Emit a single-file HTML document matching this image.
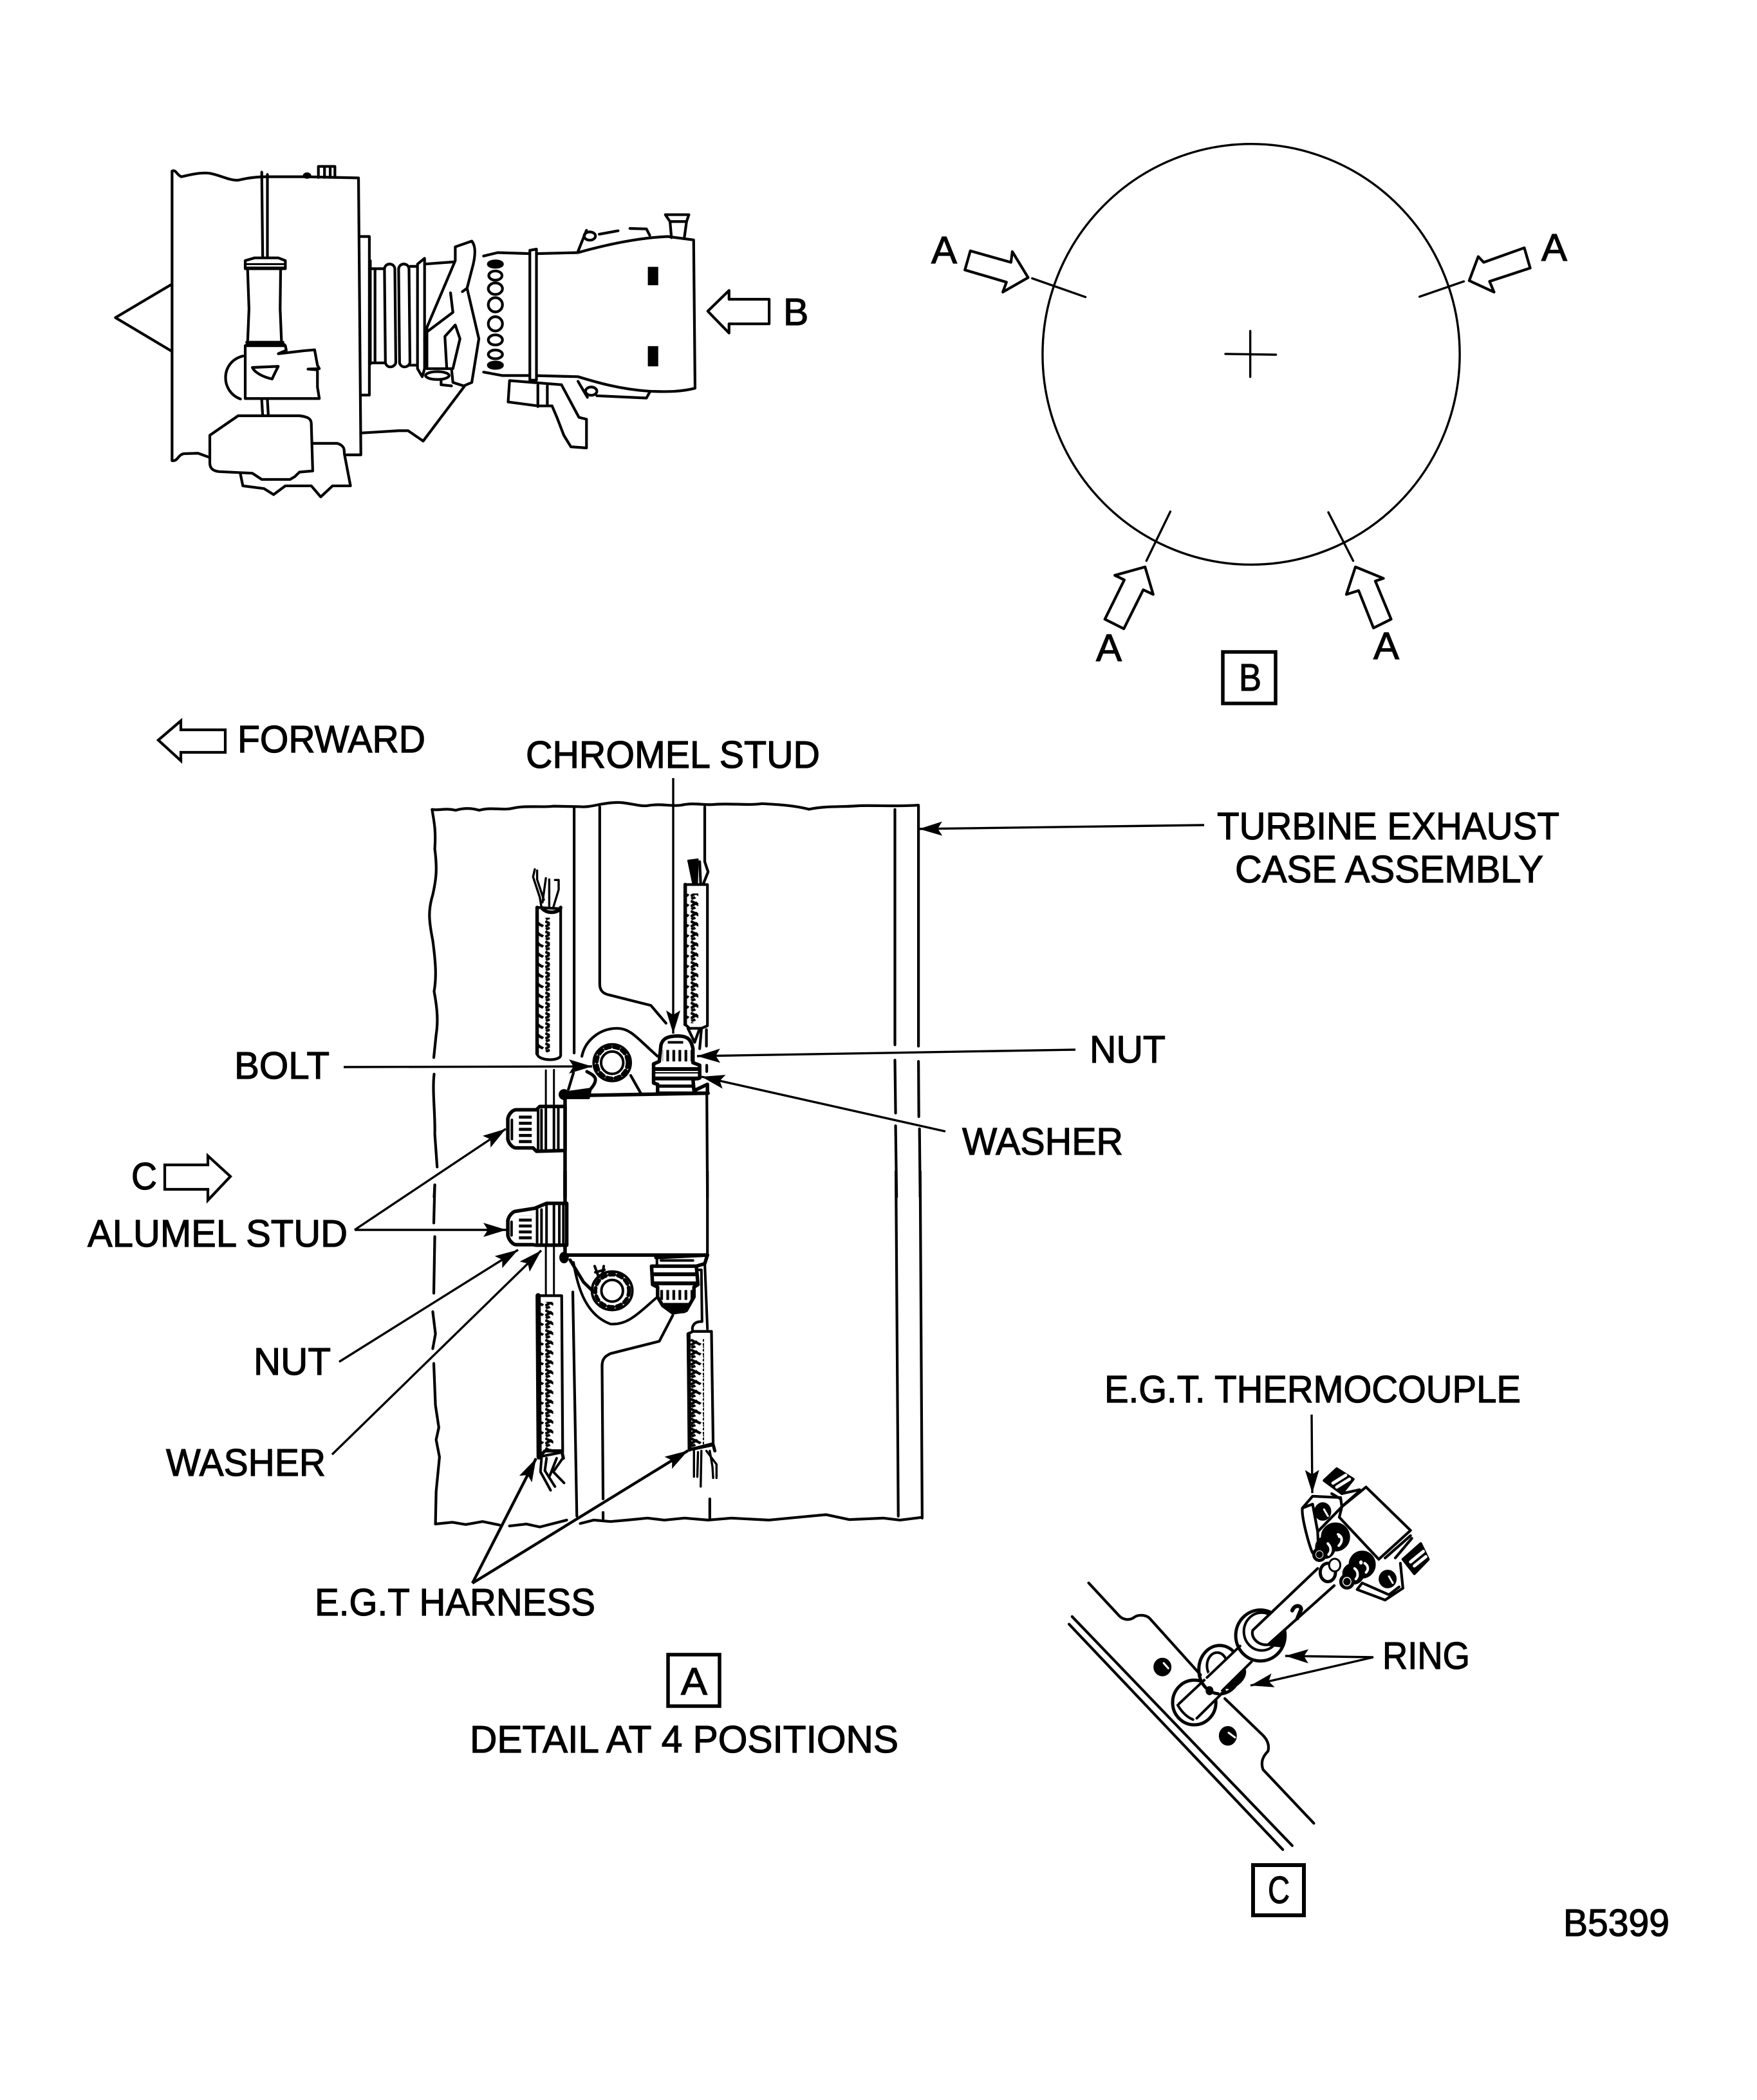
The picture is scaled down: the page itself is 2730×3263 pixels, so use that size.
<!DOCTYPE html>
<html><head><meta charset="utf-8"><style>
html,body{margin:0;padding:0;background:#fff}
svg{display:block}
text{font-family:"Liberation Sans",sans-serif;font-size:59px;fill:#000;stroke:#000;stroke-width:1.2px}
.s *{vector-effect:non-scaling-stroke}
.s{fill:none;stroke:#000;stroke-width:4.2px;stroke-linecap:round;stroke-linejoin:round}
.w{fill:#fff}.k{fill:#000}
.l{fill:none;stroke:#000;stroke-width:3.4px;stroke-linecap:butt}
</style></head><body>
<svg xmlns="http://www.w3.org/2000/svg" width="2730" height="3263" viewBox="0 0 2730 3263">
<defs>
<marker id="a" markerUnits="userSpaceOnUse" markerWidth="40" markerHeight="30" refX="36" refY="13" orient="auto">
<path d="M0,2 L36,13 L0,24 L7,13 Z" fill="#000"/></marker>
<pattern id="h" patternUnits="userSpaceOnUse" width="36" height="40">
<path d="M0,4 L30,24 M0,26 L20,10 M2,36 L14,30" stroke="#000" stroke-width="10" fill="none"/></pattern>
<pattern id="r" patternUnits="userSpaceOnUse" width="18" height="40">
<rect x="0" y="0" width="8" height="40" fill="#000"/></pattern>
<pattern id="q" patternUnits="userSpaceOnUse" width="40" height="24">
<rect x="0" y="0" width="40" height="12" fill="#000"/></pattern>
</defs>

<!-- ENGINE -->
<g class="s" transform="translate(150,230) scale(.7334,.3571)">
<path d="M160,1360 L160,100 C168,92 170,118 180,125 C200,115 222,105 240,110 C262,118 282,142 300,140 C320,130 340,125 360,125 L440,125 L555,130 L560,1335 L530,1335"/>
<path d="M160,1360 C172,1365 172,1335 185,1330 L215,1328 L238,1345"/>
<path d="M160,592 L40,738 L160,885"/>
<path d="M350,105 L352,475 M362,115 L362,475"/>
<path d="M470,128 L470,80 L505,80 L505,128 M483,80 L483,128 M495,80 L495,128"/>
<ellipse class="k" cx="446" cy="120" rx="6" ry="8"/>
<path d="M560,385 L578,385 L578,1075 L560,1075"/>
<path class="w" d="M315,525 L315,490 L335,478 L385,478 L400,490 L400,525 Z"/>
<path d="M315,505 L400,505 M315,520 L400,520" stroke-width="3"/>
<path d="M320,525 L323,700 L320,850 M390,525 L389,700 L392,850"/>
<path d="M318,845 L395,845 M318,855 L398,855"/>
<path class="w" d="M315,860 L400,860 L402,880 L385,895 L440,882 L462,878 L468,945 L472,960 L448,962 L468,965 L468,1040 L472,1090 L315,1090 Z"/>
<path d="M310,905 C262,930 262,1060 305,1092"/>
<path d="M330,955 L385,950 C380,970 375,990 372,1005 C350,995 335,975 330,955 Z"/>
<path d="M350,1095 L352,1165 M362,1095 L364,1165"/>
<path d="M458,1285 L510,1285 C525,1295 525,1310 525,1330 L538,1470 L500,1470 L475,1518 L455,1470 L400,1470 L375,1508 L355,1482 L310,1470 L305,1420"/>
<path class="w" d="M300,1165 L360,1165 L430,1165 C450,1170 455,1180 455,1200 L458,1405 L430,1410 L420,1430 L410,1442 L350,1442 L330,1415 L260,1408 C245,1405 240,1390 240,1370 L240,1250 Z"/>
<path d="M560,1240 L640,1230 L660,1230 L692,1275 L780,1035"/>
<path d="M580,490 L580,940 M578,525 L610,525 M578,935 L610,935 M590,530 L590,935"/>
<path d="M610,525 C612,498 630,498 632,525 L634,935 C630,958 615,958 612,935 Z"/>
<path d="M640,525 C642,498 660,498 662,525 L664,935 C660,958 645,958 642,935 Z"/>
<path d="M680,505 L695,480 L695,960 L690,995 L680,960 Z M664,515 L680,515 M664,945 L680,945"/>
<path d="M695,505 L760,495 M695,830 L700,960"/>
<ellipse class="w" cx="722" cy="990" rx="25" ry="17"/>
<path d="M730,1012 L730,1030 L752,1035"/>
<path class="w" d="M760,430 L795,405 C805,430 802,480 795,530 L785,610 L810,830 L795,1020 L778,1035 L755,1020 L752,960 L700,960 L700,780 L760,490 Z"/>
<path d="M750,630 L755,715 L700,800 M775,625 L785,610 M760,770 L738,820 L742,960 M760,770 L770,830 L755,960"/>
<path d="M820,470 L850,455 L925,460 L1020,455 C1080,420 1150,390 1210,385 L1265,400 L1268,1045 C1240,1060 1210,1062 1170,1058 C1110,1050 1060,1020 1020,995 L925,990 L860,990 L820,975"/>
<path d="M918,445 L918,1010 L932,1010 L932,440 Z" class="w"/>
<ellipse class="k" cx="845" cy="505" rx="15" ry="14"/>
<ellipse cx="845" cy="555" rx="14" ry="20"/><ellipse cx="845" cy="612" rx="15" ry="25"/>
<ellipse cx="845" cy="682" rx="15" ry="31"/><ellipse cx="845" cy="765" rx="15" ry="31"/>
<ellipse cx="845" cy="835" rx="15" ry="22"/><ellipse cx="845" cy="898" rx="15" ry="19"/>
<ellipse class="k" cx="845" cy="945" rx="15" ry="14"/>
<rect class="k" x="1168" y="517" width="22" height="80" stroke="none"/>
<rect class="k" x="1168" y="862" width="22" height="88" stroke="none"/>
<path d="M1295,710 L1340,620 L1340,658 L1425,658 L1425,765 L1340,765 L1340,805 Z"/>
<path d="M1205,290 L1255,290 L1250,320 L1245,395 M1205,290 L1215,320 L1218,390 M1215,320 L1248,320"/>
<ellipse cx="1045" cy="383" rx="12" ry="18"/>
<path d="M1020,450 L1038,358 M1065,375 L1105,360 M1130,350 L1165,352 L1172,380"/>
<path d="M1020,1015 L1040,1085"/>
<ellipse cx="1048" cy="1058" rx="12" ry="18"/>
<path d="M1060,1078 L1165,1088 L1172,1062"/>
<path d="M875,1012 L985,1030 M875,1012 L872,1105 L935,1122 L965,1122 M935,1032 L935,1125 M955,1035 L955,1122"/>
<path d="M985,1030 L1022,1172 L1038,1180 L1038,1305 L1005,1300 L990,1250 L975,1170 L965,1122"/>
</g>
<text x="1217" y="505">B</text>

<!-- CIRCLE -->
<g class="s" transform="translate(1420,200) scale(.7015,.5931)" style="stroke-width:3.4px">
<ellipse cx="747" cy="591" rx="462" ry="551"/>
<path d="M262,392 L380,441 M1218,400 L1120,440 M515,1132 L568,1003 M973,1132 L918,1005"/>
<path d="M745,530 L745,650 M690,590 L802,592"/>
<path stroke-width="4.2" d="M253,390 L218,322 L215,350 L125,320 L113,370 L205,402 L197,428 Z"/>
<path stroke-width="4.2" d="M1230,398 L1250,335 L1262,350 L1352,312 L1365,365 L1275,400 L1285,428 Z"/>
<path stroke-width="4.2" d="M512,1148 L445,1170 L466,1182 L423,1285 L465,1310 L508,1208 L530,1220 Z"/>
<path stroke-width="4.2" d="M978,1148 L1040,1178 L1022,1185 L1057,1285 L1018,1308 L985,1210 L958,1220 Z"/>
</g>
<text x="1447" y="409" textLength="40" lengthAdjust="spacingAndGlyphs">A</text>
<text x="2395" y="405" textLength="40" lengthAdjust="spacingAndGlyphs">A</text>
<text x="1703" y="1027" textLength="40" lengthAdjust="spacingAndGlyphs">A</text>
<text x="2134" y="1024" textLength="40" lengthAdjust="spacingAndGlyphs">A</text>
<rect x="1900" y="1013" width="82" height="80" fill="none" stroke="#000" stroke-width="5.5"/>
<text x="1925" y="1073" textLength="35" lengthAdjust="spacingAndGlyphs">B</text>

<!-- UPPER DETAIL A -->
<g class="s" transform="translate(640,1240) scale(.523,.3954)">
<path d="M60,45 C80,50 100,38 130,48 C160,36 185,42 200,48 C240,34 270,50 300,40 C340,28 380,38 420,32 L500,34 C530,38 560,20 600,18 C640,14 670,34 700,30 C740,20 770,34 800,28 C840,16 870,30 900,25 C950,20 1000,30 1040,22 C1090,26 1130,28 1180,44 C1230,30 1280,36 1330,30 C1380,28 1440,34 1505,28"/>
<path d="M60,45 C65,90 72,120 68,200 C76,280 72,320 62,380 C48,440 50,480 62,560 C70,640 74,700 66,760 C76,830 78,880 72,930 L65,1020 M66,1085 C60,1150 70,1250 68,1320 L75,1450 M68,1520 L66,1568"/>
<path d="M482,40 L482,1002 M558,35 L558,730 C558,760 570,770 590,775 L710,815 L755,885"/>
<path d="M870,35 L870,250"/>
<path d="M1435,45 L1435,970 M1435,1030 L1437,1238 M1437,1288 L1440,1568 M1505,30 L1505,975 M1505,1035 L1506,1252 M1508,1300 L1510,1568"/>
<path d="M876,1050 L876,1075 M876,1125 L878,1568 M455,1170 L455,1568" />
<path d="M455,1170 L880,1160" stroke-width="5.5"/>
<path d="M455,1180 L455,1568" stroke-width="5.5"/>
<path class="w" d="M372,430 L442,435 L442,1010 C442,1035 375,1035 372,1005 Z"/>
<rect x="376" y="470" width="34" height="530" fill="url(#h)" stroke="none"/>
<path d="M372,430 L372,1005" stroke-width="5.5"/>
<path d="M385,430 C400,460 440,450 442,430" stroke-width="5.5"/>
<path d="M365,280 L360,310 L380,390 L385,430 M372,285 L372,320 L392,400 M398,315 L388,410 M408,320 L408,425 M425,322 L436,322 L436,360 L420,430" stroke-width="3.4"/>
<path class="w" d="M812,340 L878,340 L878,895 L860,905 L825,905 L812,890 Z"/>
<rect x="815" y="375" width="36" height="510" fill="url(#h)" stroke="none"/>
<path d="M812,340 L812,890" stroke-width="5.5"/>
<path class="k" d="M820,245 L850,240 L848,340 L835,340 Z" stroke-width="2"/>
<path d="M870,250 L880,290 L865,340 M855,250 L858,340"/>
<path d="M820,905 L840,960 L855,905 M860,910 L855,985 M875,910 L875,975"/>
<!-- bolt & lug -->
<path class="w" d="M505,1020 C515,950 560,905 610,905 C650,905 670,945 730,1020 L730,1150 L480,1150 Z" stroke="none"/>
<path d="M505,1015 C515,950 560,905 610,905 C650,905 670,945 730,1015"/>
<path d="M650,1090 L680,1160 M480,1080 L465,1145"/>
<ellipse cx="595" cy="1040" rx="55" ry="72" stroke-width="4"/>
<ellipse cx="595" cy="1040" rx="46" ry="62" stroke-width="6"  stroke-dasharray="7,6"/>
<ellipse cx="595" cy="1040" rx="33" ry="44" stroke-width="4"/>
<path d="M520,1075 C540,1090 560,1100 530,1145 L450,1160" stroke-width="5"/>
<ellipse class="k" cx="452" cy="1165" rx="12" ry="16"/>
<path class="k" d="M455,1160 L530,1148 L525,1178 L455,1178 Z"/>
<!-- top nut -->
<path class="w" d="M740,970 C745,945 760,935 790,935 C820,935 830,950 835,985 L835,1040 L855,1050 L855,1100 L835,1105 L838,1150 L878,1125 L878,1160 L730,1160 L730,1125 L718,1120 L718,1045 L735,1035 Z" stroke-width="5.5"/>
<rect x="760" y="955" width="46" height="10" class="k" stroke="none"/>
<rect x="745" y="990" width="85" height="45" fill="url(#r)" stroke="none"/>
<path d="M725,1065 L850,1065 M722,1102 L850,1102" stroke-width="6"/>
<path d="M720,1080 L855,1080 " stroke-width="2"/>
<path d="M735,1132 L835,1132" stroke-width="5"/>
<!-- upper left stud -->
<path d="M398,1070 L398,1220 M422,1068 L422,1220" stroke-width="3"/>
<path class="w" d="M285,1260 C288,1240 300,1225 310,1225 L370,1225 L380,1212 L455,1212 L455,1385 L370,1388 L360,1375 L310,1375 C300,1375 288,1360 285,1340 Z" stroke-width="5.5"/>
<path d="M297,1265 L297,1340" stroke-width="4"/>
<rect x="318" y="1245" width="38" height="115" fill="url(#q)" stroke="none"/>
<path d="M375,1225 L375,1380 M385,1225 L385,1382 M398,1220 L398,1385 M422,1212 L422,1385 M435,1218 L435,1380" stroke-width="4"/>
</g>

<!-- LOWER DETAIL A -->
<g class="s" transform="translate(640,1820) scale(.523,.3827)">
<path d="M68,55 L65,210 M68,265 L65,495 M62,570 L70,660 L62,720 M65,780 L70,950 L80,1040 L72,1090 L82,1160 L72,1300 L70,1432"/>
<path d="M70,1432 L120,1425 L160,1434 L210,1422 L260,1436 M290,1440 L340,1432 L380,1444 L460,1416 M500,1430 L540,1416 L590,1422 L640,1416 L700,1408 L750,1416 L810,1408 L880,1416 L950,1408 L1060,1416 L1160,1403 L1230,1394 L1300,1414 L1400,1408 L1450,1416 L1515,1405"/>
<path d="M478,490 L490,1400 M568,1385 L568,1412 M885,1330 L885,1408"/>
<path d="M1438,0 L1445,1400 M1510,0 L1516,1408"/>
<path d="M775,585 L735,690 L590,740 C575,750 565,760 565,790 L568,1330"/>
<path d="M455,0 L455,340" stroke-width="5.5"/><path d="M878,0 L878,340"/>
<path d="M398,300 L398,500 M422,300 L422,500" stroke-width="3"/>
<path class="w" d="M285,200 C288,180 300,162 310,162 L365,150 L400,130 L425,130 L460,130 L460,300 L370,300 L360,298 L310,298 C300,298 288,280 285,260 Z" stroke-width="5.5"/>
<rect x="318" y="180" width="38" height="105" fill="url(#q)" stroke="none"/>
<path d="M296,205 L296,260 M372,155 L372,295 M385,155 L385,295 M400,130 L400,300 M422,130 L422,300 M438,135 L438,300 M450,135 L450,300" stroke-width="4"/>
<path d="M445,340 L878,340" stroke-width="5.5"/>
<ellipse class="k" cx="452" cy="350" rx="10" ry="18"/>
<path d="M470,360 L510,450 L540,490" stroke-width="5"/>
<path d="M480,370 C490,450 510,580 590,620 C640,625 670,580 725,515" stroke-width="4"/>
<ellipse cx="595" cy="485" rx="60" ry="78" stroke-width="4"/>
<ellipse cx="595" cy="485" rx="50" ry="66" stroke-width="6" stroke-dasharray="7,6"/>
<ellipse cx="595" cy="485" rx="32" ry="44" stroke-width="4"/>
<path d="M543,385 L555,430 M570,385 L565,425 M545,410 L572,400" stroke-width="4"/>
<path class="w" d="M725,350 L878,340 L870,375 L845,385 L712,385 L715,460 L730,470 L730,510 L745,545 L775,575 L815,565 L838,510 L838,470 L850,460 L845,385" stroke-width="5.5"/>
<path d="M728,350 L728,385 M740,362 L835,362" stroke-width="4"/>
<path d="M715,418 L845,418 M720,455 L845,455" stroke-width="6"/>
<rect x="738" y="482" width="95" height="40" fill="url(#r)" stroke="none"/>
<path class="k" d="M750,540 L825,540 L810,570 L775,575 Z"/>
<path d="M850,400 L860,400 L862,610 M870,370 L878,640" stroke-width="4"/>
<path d="M860,610 C835,610 830,635 835,650"/>
<path class="w" d="M375,505 L445,505 L448,1140 L375,1160 Z"/>
<rect x="378" y="530" width="42" height="600" fill="url(#h)" stroke="none"/>
<path d="M375,505 L378,1160" stroke-width="8"/>
<path d="M378,1160 L395,1135 L445,1135 L450,1165" stroke-width="5"/>
<path class="w" d="M820,660 L835,650 L890,650 L895,1105 L825,1130 Z"/>
<rect x="824" y="680" width="44" height="440" fill="url(#h)" stroke="none"/>
<path d="M822,660 L825,1130" stroke-width="6"/>
<path d="M825,1130 L895,1110 L900,1135" stroke-width="5"/>
<path d="M385,1165 L382,1220 L412,1295 M400,1165 L395,1215 L425,1280 M448,1165 L420,1220 L452,1265 M430,1165 L410,1235" stroke-width="4"/>
<path d="M838,1135 L838,1240 M850,1140 L848,1240 M860,1135 L858,1280 M875,1135 L905,1190 L905,1245 M885,1135 L893,1200 L895,1245" stroke-width="3.4"/>
</g>

<!-- C view -->
<g class="s" transform="translate(1650,2280) scale(.3954,.4082)">
<path d="M105,440 L225,565 C240,580 265,585 285,570 C300,560 330,560 345,575 L545,790"/>
<path d="M640,880 L790,1020 C810,1040 815,1060 810,1080 C790,1100 780,1120 790,1150 L990,1355"/>
<path d="M40,568 L905,1440 M28,597 L868,1455"/>
<ellipse class="k" cx="395" cy="760" rx="30" ry="30"/>
<ellipse class="k" cx="652" cy="1022" rx="30" ry="32"/>
<path d="M400,745 L418,765 M655,1010 L680,1028" style="stroke:#fff" stroke-width="3"/>
<ellipse cx="520" cy="895" rx="85" ry="85" stroke-width="5"/>
<path class="w" d="M460,900 L590,775 L650,835 L520,960 Z" stroke="none"/>
<path d="M460,900 L570,800 M530,955 L640,850 M455,905 C470,930 490,950 515,960" stroke-width="4"/>
<ellipse cx="620" cy="770" rx="82" ry="92" stroke-width="5"/>
<ellipse cx="610" cy="755" rx="40" ry="50" stroke-width="4"/>
<path class="w" d="M555,800 L700,680 L750,735 L620,860 Z" stroke="none"/>
<path d="M570,800 L700,680 M630,850 L745,740" stroke-width="4"/>
<path class="k" d="M645,838 C680,820 705,795 718,772 C722,795 705,820 665,840 Z"/>
<ellipse class="k" cx="580" cy="850" rx="10" ry="12"/>
<ellipse cx="780" cy="640" rx="97" ry="97" stroke-width="5"/>
<ellipse cx="785" cy="625" rx="70" ry="72" stroke-width="4"/>
<path class="w" d="M755,625 L1005,385 L1070,450 L820,675 Z" stroke="none"/>
<path d="M1005,385 L750,620 C740,650 775,680 810,675 L1070,450"/>
<path class="k" d="M815,675 L870,625 L860,680 Z"/>
<path d="M905,545 C915,520 940,525 940,540 L925,575" stroke-width="6"/>
<path class="w" d="M1100,150 L1195,75 L1370,240 L1245,350 L1090,190 Z"/>
<path class="w" d="M945,155 L985,110 L1095,115 L1100,150 L1005,245 L985,140 Z"/>
<path class="w" d="M945,155 C940,190 975,310 985,325 L1010,355 L1005,245 L985,140 Z"/>
<ellipse class="k" cx="1025" cy="168" rx="28" ry="30"/>
<ellipse class="k" cx="1280" cy="425" rx="30" ry="30"/>
<path d="M1030,160 L1045,185 M1285,415 L1300,440" style="stroke:#fff" stroke-width="3"/>
<ellipse class="k" cx="1075" cy="265" rx="52" ry="50"/>
<ellipse class="k" cx="1180" cy="370" rx="48" ry="48"/>
<ellipse class="k" cx="1035" cy="305" rx="35" ry="38"/>
<ellipse class="k" cx="1145" cy="405" rx="38" ry="36"/>
<path d="M1085,255 C1105,265 1102,285 1088,298 M1045,290 C1060,305 1058,320 1048,332 M1190,365 C1205,375 1205,390 1195,400 M1150,385 C1165,395 1165,415 1155,425" style="stroke:#fff" stroke-width="4"/>
<ellipse cx="1175" cy="362" rx="7" ry="8" style="fill:#fff;stroke:none"/>
<ellipse cx="1090" cy="262" rx="6" ry="7" style="fill:#fff;stroke:none"/>
<ellipse class="w" cx="1012" cy="332" rx="22" ry="22" stroke-width="5"/>
<ellipse class="k" cx="1012" cy="332" rx="8" ry="8"/>
<ellipse class="w" cx="1120" cy="435" rx="24" ry="24" stroke-width="5"/>
<ellipse class="k" cx="1120" cy="435" rx="9" ry="9"/>
<ellipse class="w" cx="1045" cy="400" rx="30" ry="35" stroke-width="5"/>
<ellipse class="w" cx="1072" cy="372" rx="22" ry="24" stroke-width="3"/>
<path d="M1330,365 L1340,460 L1270,505 L1160,465 L1180,440 L1285,485 L1325,455"/>
<path class="k" d="M1030,50 L1080,5 L1145,45 L1100,100 Z"/>
<path d="M1065,60 L1115,30 M1080,75 L1130,45" style="stroke:#fff" stroke-width="5"/>
<path class="k" d="M1340,350 L1410,290 L1440,350 L1385,405 Z"/>
<path d="M1370,360 L1420,320 M1385,375 L1430,340" style="stroke:#fff" stroke-width="5"/>
<path d="M1060,100 L1095,120 M1100,100 L1170,85 M1105,145 L1170,90 M1270,345 L1370,260 M1310,345 L1375,270"/>
</g>

<!-- arrows -->
<g fill="none" stroke="#000" stroke-width="4.2">
<path d="M246,1150 L281,1120 L281,1134 L350,1134 L350,1169 L281,1169 L281,1182 Z"/>
<path d="M256,1810 L323,1810 L323,1796 L358,1828 L323,1865 L323,1848 L256,1848 Z"/>
</g>

<!-- leaders -->
<g class="l">
<path d="M1046,1209 L1046,1606" marker-end="url(#a)"/>
<path d="M534,1658 L920,1657" marker-end="url(#a)"/>
<path d="M1671,1631 L1083,1641" marker-end="url(#a)"/>
<path d="M1469,1758 L1090,1673" marker-end="url(#a)"/>
<path d="M551,1911 L786,1754" marker-end="url(#a)"/>
<path d="M551,1911 L787,1911" marker-end="url(#a)"/>
<path d="M527,2116 L805,1942" marker-end="url(#a)"/>
<path d="M516,2260 L841,1943" marker-end="url(#a)"/>
<path d="M734,2460 L833,2266" marker-end="url(#a)" stroke-width="4.4"/>
<path d="M734,2460 L1069,2254" marker-end="url(#a)" stroke-width="4.4"/>
<path d="M1871,1282 L1428,1288" marker-end="url(#a)"/>
<path d="M2038,2198 L2039,2320" marker-end="url(#a)"/>
<path d="M2134,2575 L1997,2573" marker-end="url(#a)"/>
<path d="M2134,2575 L1943,2619" marker-end="url(#a)"/>
</g>

<!-- labels -->
<text x="369" y="1169" textLength="292" lengthAdjust="spacingAndGlyphs">FORWARD</text>
<text x="817" y="1193" textLength="457" lengthAdjust="spacingAndGlyphs">CHROMEL STUD</text>
<text x="1891" y="1304" textLength="532" lengthAdjust="spacingAndGlyphs">TURBINE EXHAUST</text>
<text x="1919" y="1371" textLength="479" lengthAdjust="spacingAndGlyphs">CASE ASSEMBLY</text>
<text x="364" y="1676" textLength="148" lengthAdjust="spacingAndGlyphs">BOLT</text>
<text x="1693" y="1651" textLength="118" lengthAdjust="spacingAndGlyphs">NUT</text>
<text x="1495" y="1794" textLength="250" lengthAdjust="spacingAndGlyphs">WASHER</text>
<text x="204" y="1848" textLength="40" lengthAdjust="spacingAndGlyphs">C</text>
<text x="136" y="1937" textLength="404" lengthAdjust="spacingAndGlyphs">ALUMEL STUD</text>
<text x="394" y="2136" textLength="120" lengthAdjust="spacingAndGlyphs">NUT</text>
<text x="258" y="2293" textLength="248" lengthAdjust="spacingAndGlyphs">WASHER</text>
<text x="1716" y="2179" textLength="647" lengthAdjust="spacingAndGlyphs">E.G.T. THERMOCOUPLE</text>
<text x="489" y="2510" textLength="436" lengthAdjust="spacingAndGlyphs">E.G.T HARNESS</text>
<text x="2148" y="2593" textLength="136" lengthAdjust="spacingAndGlyphs">RING</text>
<text x="730" y="2723" textLength="666" lengthAdjust="spacingAndGlyphs">DETAIL AT 4 POSITIONS</text>
<text x="2429" y="3008" textLength="165" lengthAdjust="spacingAndGlyphs">B5399</text>
<rect x="1038" y="2571" width="80" height="80" fill="none" stroke="#000" stroke-width="5.5"/>
<text x="1058" y="2633" textLength="41" lengthAdjust="spacingAndGlyphs">A</text>
<rect x="1947" y="2898" width="79" height="78" fill="none" stroke="#000" stroke-width="6"/>
<text x="1970" y="2957" textLength="34" lengthAdjust="spacingAndGlyphs">C</text>
</svg>
</body></html>
